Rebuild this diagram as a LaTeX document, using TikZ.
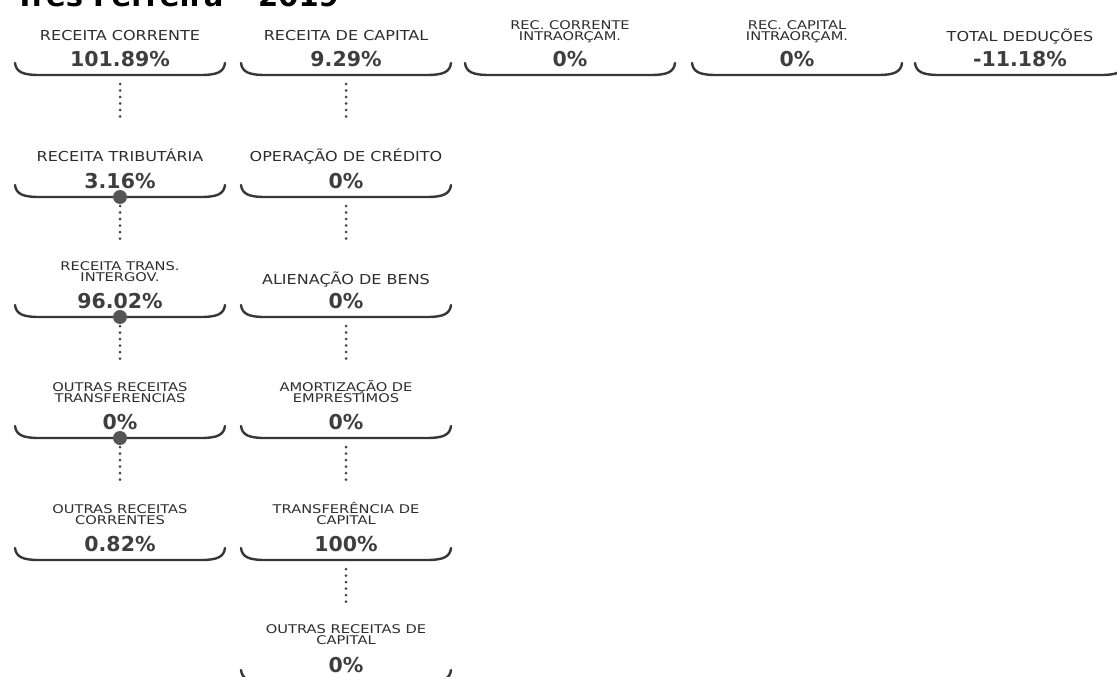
\documentclass[tikz,border=0pt]{standalone}
\usepackage{fontspec}
\usetikzlibrary{positioning}
\definecolor{traco}{RGB}{55,55,55}
\definecolor{textorot}{RGB}{45,45,45}
\definecolor{textoval}{RGB}{62,62,62}
\definecolor{pontilhado}{RGB}{70,70,70}
\definecolor{marcador}{RGB}{85,85,85}
\newfontfamily\rotulofonte[FakeStretch=1.17]{DejaVu Sans}
\newfontfamily\rotuloduplofonte[FakeStretch=1.22]{DejaVu Sans}
\newfontfamily\valorfonte{DejaVu Sans}
\tikzstyle{rotulo}=[inner sep=0pt, text depth=0pt, align=center, text=textorot, font={\rotulofonte\fontsize{13.7pt}{14pt}\selectfont}]
\tikzstyle{rotuloduplo}=[inner sep=0pt, text depth=0pt, align=center, text=textorot, font={\rotuloduplofonte\fontsize{12pt}{11.5pt}\selectfont}]
\tikzstyle{valor}=[inner sep=0pt, text depth=0pt, text=textoval, font={\valorfonte\bfseries\fontsize{20.5pt}{22pt}\selectfont}]
\tikzset{ligacao/.style={draw=pontilhado, line width=3pt, line cap=round, dash pattern=on 0pt off 6.5pt, shorten <=9pt, shorten >=75pt}}
\tikzset{ponto/.style={circle, fill=marcador, minimum size=14pt, inner sep=0pt}}
\tikzset{colchete/.style={minimum width=210pt, minimum height=0pt, inner sep=0pt, outer sep=0pt,
    append after command={\pgfextra{%
        \draw[line width=2.4pt, draw=traco, line cap=round]
        ([yshift=12pt]\tikzlastnode.west) .. controls ([xshift=1pt,yshift=3pt]\tikzlastnode.west) and ([xshift=8pt]\tikzlastnode.west) .. ([xshift=24pt]\tikzlastnode.west)
        -- ([xshift=-24pt]\tikzlastnode.east) .. controls ([xshift=-8pt]\tikzlastnode.east) and ([xshift=-1pt,yshift=3pt]\tikzlastnode.east) .. ([yshift=12pt]\tikzlastnode.east);
      }}}}

\begin{document}
\begin{tikzpicture}[x=1pt, y=-1pt]
  \useasboundingbox (0,0) rectangle (1117,677);
  \clip (0,0) rectangle (1117,677);
  \node[anchor=base west, inner sep=0pt, font={\valorfonte\bfseries\fontsize{29pt}{30pt}\selectfont}] (Tit) at (15,7) {Três Ferreira – 2019};

  %% Receitas correntes
  \draw (120,75) node[colchete] (RCor-b) {};
  \draw (120,197) node[colchete] (RTri-b) {};
  \draw (120,317) node[colchete] (RTra-b) {};
  \draw (120,438) node[colchete] (ORT-b) {};
  \draw (120,560) node[colchete] (ORC-b) {};

  \node[rotulo, above=34pt of RCor-b] (RCor) {RECEITA CORRENTE};
  \node[valor, above=8pt of RCor-b] (RCor-v) {101.89\%};
  \node[rotulo, above=35pt of RTri-b] (RTri) {RECEITA TRIBUTÁRIA};
  \node[valor, above=8pt of RTri-b] (RTri-v) {3.16\%};
  \node[rotuloduplo, above=35pt of RTra-b] (RTra) {RECEITA TRANS.\\INTERGOV.};
  \node[valor, above=8pt of RTra-b] (RTra-v) {96.02\%};
  \node[rotuloduplo, above=35pt of ORT-b] (ORT) {OUTRAS RECEITAS\\TRANSFERENCIAS};
  \node[valor, above=8pt of ORT-b] (ORT-v) {0\%};
  \node[rotuloduplo, above=35pt of ORC-b] (ORC) {OUTRAS RECEITAS\\CORRENTES};
  \node[valor, above=8pt of ORC-b] (ORC-v) {0.82\%};

  %% Receitas de capital
  \draw (346,75) node[colchete] (RCap-b) {};
  \draw (346,197) node[colchete] (OCre-b) {};
  \draw (346,317) node[colchete] (ABen-b) {};
  \draw (346,438) node[colchete] (AEmp-b) {};
  \draw (346,560) node[colchete] (TCap-b) {};
  \draw (346,682) node[colchete] (ORCap-b) {};

  \node[rotulo, above=34pt of RCap-b] (RCap) {RECEITA DE CAPITAL};
  \node[valor, above=8pt of RCap-b] (RCap-v) {9.29\%};
  \node[rotulo, above=35pt of OCre-b] (OCre) {OPERAÇÃO DE CRÉDITO};
  \node[valor, above=8pt of OCre-b] (OCre-v) {0\%};
  \node[rotulo, above=32pt of ABen-b] (ABen) {ALIENAÇÃO DE BENS};
  \node[valor, above=8pt of ABen-b] (ABen-v) {0\%};
  \node[rotuloduplo, above=35pt of AEmp-b] (AEmp) {AMORTIZAÇÃO DE\\EMPRESTIMOS};
  \node[valor, above=8pt of AEmp-b] (AEmp-v) {0\%};
  \node[rotuloduplo, above=35pt of TCap-b] (TCap) {TRANSFERÊNCIA DE\\CAPITAL};
  \node[valor, above=8pt of TCap-b] (TCap-v) {100\%};
  \node[rotuloduplo, above=37pt of ORCap-b] (ORCap) {OUTRAS RECEITAS DE\\CAPITAL};
  \node[valor, above=9pt of ORCap-b] (ORCap-v) {0\%};

  %% Intraorcamentarias e deducoes
  \draw (570,75) node[colchete] (RCI-b) {};
  \draw (797,75) node[colchete] (RKI-b) {};
  \draw (1020,75) node[colchete] (TDed-b) {};

  \node[rotuloduplo, above=34pt of RCI-b] (RCI) {REC. CORRENTE\\INTRAORÇAM.};
  \node[valor, above=8pt of RCI-b] (RCI-v) {0\%};
  \node[rotuloduplo, above=34pt of RKI-b] (RKI) {REC. CAPITAL\\INTRAORÇAM.};
  \node[valor, above=8pt of RKI-b] (RKI-v) {0\%};
  \node[rotulo, above=33pt of TDed-b] (TDed) {TOTAL DEDUÇÕES};
  \node[valor, above=8pt of TDed-b] (TDed-v) {-11.18\%};

  %% Ligacoes
  \draw[ligacao] (RCor-b) -- (RTri-b);
  \draw[ligacao] (RTri-b) -- (RTra-b);
  \draw[ligacao] (RTra-b) -- (ORT-b);
  \draw[ligacao] (ORT-b) -- (ORC-b);

  \draw[ligacao] (RCap-b) -- (OCre-b);
  \draw[ligacao] (OCre-b) -- (ABen-b);
  \draw[ligacao] (ABen-b) -- (AEmp-b);
  \draw[ligacao] (AEmp-b) -- (TCap-b);
  \draw[ligacao] (TCap-b) -- (ORCap-b);

  \draw (120,197) node[ponto] (RTri-p) {};
  \draw (120,317) node[ponto] (RTra-p) {};
  \draw (120,438) node[ponto] (ORT-p) {};
\end{tikzpicture}
\end{document}
